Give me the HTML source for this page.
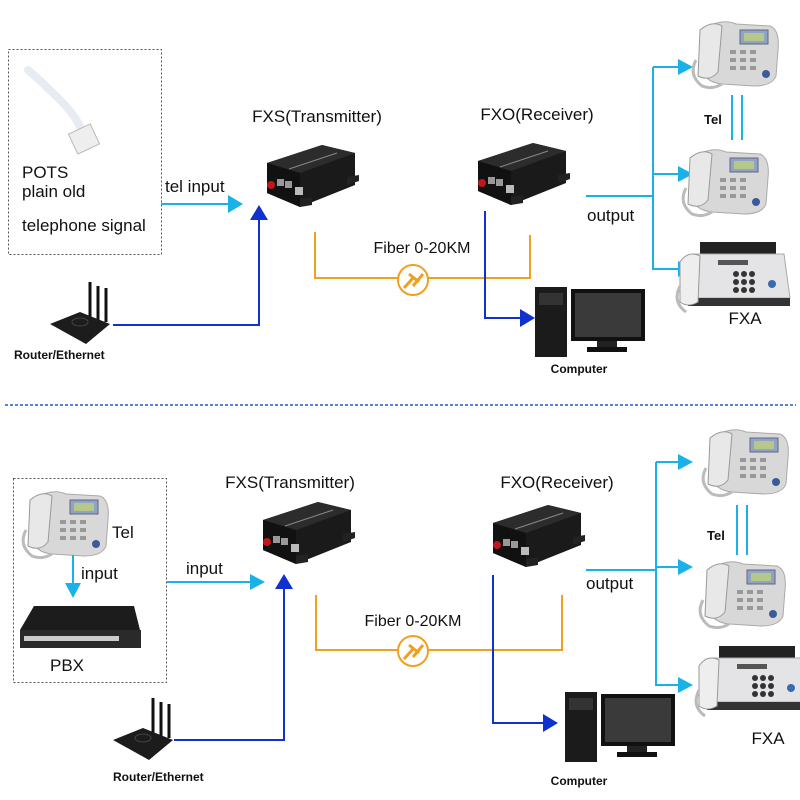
<!DOCTYPE html>
<html><head><meta charset="utf-8"><style>
html,body{margin:0;padding:0;background:#fff;}
svg{display:block;}
text{font-family:"Liberation Sans",sans-serif;fill:#111;}
</style></head><body>
<svg width="800" height="800" viewBox="0 0 800 800" xmlns="http://www.w3.org/2000/svg">
<defs>
<g id="conv">
  <polygon points="0,18 55,0 88,8 88,40 33,62 0,48" fill="#1a1a1a"/>
  <polygon points="0,18 55,0 88,8 33,28" fill="#2c2c2c"/>
  <polygon points="0,18 33,28 33,62 0,48" fill="#111"/>
  <polygon points="33,54 33,62 45,60 45,52" fill="#222"/>
  <polygon points="80,32 92,30 92,36 80,40" fill="#222"/>
  <circle cx="4" cy="40" r="4" fill="#c0161c"/>
  <rect x="10" y="34" width="7" height="7" fill="#999"/>
  <rect x="18" y="36" width="7" height="7" fill="#999"/>
  <rect x="28" y="42" width="8" height="8" fill="#bbb"/>
  <line x1="22" y1="24" x2="70" y2="8" stroke="#888" stroke-width="1"/>
</g>
<g id="phone">
  <path d="M14,8 Q30,-2 44,4 L78,6 Q88,10 86,30 L84,56 Q80,66 62,66 L30,64 Q12,62 10,48 Z" fill="#d8d8d8" stroke="#aaa"/>
  <path d="M8,10 Q20,0 30,6 L26,52 Q18,62 6,56 Z" fill="#e8e8e8" stroke="#999"/>
  <rect x="48" y="10" width="28" height="14" fill="#8ea3c8" stroke="#667"/>
  <rect x="52" y="13" width="20" height="8" fill="#b7c78a"/>
  <g fill="#999"><rect x="38" y="30" width="6" height="4"/><rect x="48" y="30" width="6" height="4"/><rect x="58" y="30" width="6" height="4"/><rect x="38" y="38" width="6" height="4"/><rect x="48" y="38" width="6" height="4"/><rect x="58" y="38" width="6" height="4"/><rect x="38" y="46" width="6" height="4"/><rect x="48" y="46" width="6" height="4"/><rect x="58" y="46" width="6" height="4"/></g>
  <circle cx="74" cy="54" r="4" fill="#3a5a9a"/>
  <path d="M4,40 Q-4,55 10,66 Q20,70 30,64" fill="none" stroke="#bbb" stroke-width="3"/>
</g>
<g id="fax">
  <rect x="22" y="0" width="76" height="12" fill="#222"/>
  <path d="M14,12 L106,12 L112,56 L10,56 Z" fill="#e4e4e6" stroke="#aaa"/>
  <rect x="10" y="56" width="102" height="8" fill="#333"/>
  <path d="M2,20 Q10,8 22,14 L20,60 Q10,66 2,60 Z" fill="#eee" stroke="#999"/>
  <rect x="40" y="18" width="30" height="5" fill="#555"/>
  <g fill="#333"><circle cx="58" cy="32" r="3"/><circle cx="66" cy="32" r="3"/><circle cx="74" cy="32" r="3"/><circle cx="58" cy="40" r="3"/><circle cx="66" cy="40" r="3"/><circle cx="74" cy="40" r="3"/><circle cx="58" cy="48" r="3"/><circle cx="66" cy="48" r="3"/><circle cx="74" cy="48" r="3"/></g>
  <circle cx="94" cy="42" r="4" fill="#3a6ab0"/>
  <path d="M2,44 Q-6,60 8,70" fill="none" stroke="#bbb" stroke-width="3"/>
</g>
<g id="pc">
  <rect x="0" y="0" width="32" height="70" fill="#1b1b1b"/>
  <rect x="4" y="6" width="24" height="12" fill="#333"/>
  <rect x="36" y="2" width="74" height="52" fill="#111"/>
  <rect x="40" y="6" width="66" height="44" fill="#3a3a3a"/>
  <rect x="62" y="54" width="20" height="6" fill="#222"/>
  <rect x="52" y="60" width="40" height="5" fill="#111"/>
</g>
<g id="router">
  <line x1="40" y1="0" x2="40" y2="36" stroke="#111" stroke-width="3"/>
  <line x1="48" y1="4" x2="48" y2="38" stroke="#111" stroke-width="3"/>
  <line x1="56" y1="6" x2="56" y2="40" stroke="#111" stroke-width="3"/>
  <path d="M0,42 L30,30 L60,42 L36,62 Z" fill="#1c1c1c"/>
  <ellipse cx="30" cy="40" rx="8" ry="4" fill="none" stroke="#444"/>
</g>
<g id="fib">
  <circle r="15" fill="#fff" stroke="#f0a020" stroke-width="2"/>
  <path d="M-9,8 L0,-2 M-4,-6 L6,2 M0,6 L10,-6" stroke="#f0a020" stroke-width="3" fill="none"/>
</g>
</defs>

<!-- TOP -->
<rect x="8.5" y="49.5" width="153" height="205" fill="none" stroke="#555" stroke-dasharray="2,2"/>
<path d="M28,70 Q40,80 60,100 Q78,118 82,132" stroke="#e6ecf2" stroke-width="8" fill="none" stroke-linecap="round"/>
<rect x="72" y="128" width="24" height="22" fill="#eee" stroke="#bbb" transform="rotate(-25 84 139)"/>
<text x="22" y="178" font-size="17">POTS</text>
<text x="22" y="197" font-size="17">plain old</text>
<text x="22" y="231" font-size="17">telephone signal</text>
<text x="165" y="192" font-size="17">tel input</text>
<line x1="161" y1="204" x2="230" y2="204" stroke="#1ab0e8" stroke-width="2"/>
<polygon points="228,195 243,204 228,213" fill="#1ab0e8"/>
<text x="317" y="122" font-size="17" text-anchor="middle">FXS(Transmitter)</text>
<use href="#conv" x="267" y="145"/>
<polyline points="113,325 259,325 259,218" fill="none" stroke="#1030d0" stroke-width="2"/>
<polygon points="250,220 259,205 268,220" fill="#1030d0"/>
<use href="#router" x="50" y="282"/>
<text x="14" y="359" font-size="12" font-weight="bold">Router/Ethernet</text>
<polyline points="315,232 315,278 398,278" fill="none" stroke="#f0a020" stroke-width="2"/>
<polyline points="428,278 530,278 530,235" fill="none" stroke="#f0a020" stroke-width="2"/>
<use href="#fib" x="413" y="280"/>
<text x="422" y="253" font-size="16" text-anchor="middle">Fiber 0-20KM</text>
<text x="537" y="120" font-size="17" text-anchor="middle">FXO(Receiver)</text>
<use href="#conv" x="478" y="143"/>
<polyline points="485,211 485,318 522,318" fill="none" stroke="#1030d0" stroke-width="2"/>
<polygon points="520,309 535,318 520,327" fill="#1030d0"/>
<use href="#pc" x="535" y="287"/>
<text x="579" y="373" font-size="12" font-weight="bold" text-anchor="middle">Computer</text>
<polyline points="586,196 653,196" fill="none" stroke="#1ab0e8" stroke-width="2"/>
<line x1="653" y1="67" x2="653" y2="270" stroke="#1ab0e8" stroke-width="2"/>
<g stroke="#1ab0e8" stroke-width="2"><line x1="653" y1="67" x2="680" y2="67"/><line x1="653" y1="174" x2="680" y2="174"/><line x1="653" y1="269" x2="680" y2="269"/></g>
<g fill="#1ab0e8"><polygon points="678,59 693,67 678,75"/><polygon points="678,166 693,174 678,182"/><polygon points="678,261 693,269 678,277"/></g>
<text x="587" y="221" font-size="17">output</text>
<use href="#phone" x="692" y="20"/>
<text x="704" y="124" font-size="13" font-weight="bold">Tel</text>
<g stroke="#1ab0e8" stroke-width="2"><line x1="732" y1="95" x2="732" y2="140"/><line x1="742" y1="95" x2="742" y2="140"/></g>
<use href="#phone" x="682" y="148"/>
<use href="#fax" x="678" y="242"/>
<text x="745" y="324" font-size="17" text-anchor="middle">FXA</text>

<line x1="5" y1="405" x2="796" y2="405" stroke="#1a5ad0" stroke-width="1.5" stroke-dasharray="3,2"/>

<!-- BOTTOM -->
<rect x="13.5" y="478.5" width="153" height="204" fill="none" stroke="#555" stroke-dasharray="2,2"/>
<use href="#phone" x="22" y="490"/>
<text x="112" y="538" font-size="17">Tel</text>
<line x1="73" y1="555" x2="73" y2="585" stroke="#1ab0e8" stroke-width="2"/>
<polygon points="65,583 73,598 81,583" fill="#1ab0e8"/>
<text x="81" y="579" font-size="17">input</text>
<polygon points="34,606 134,606 140,630 20,630" fill="#1c1c1c"/>
<rect x="20" y="630" width="121" height="18" fill="#2a2a2a"/>
<rect x="24" y="636" width="95" height="5" fill="#ccc"/>
<text x="50" y="671" font-size="17">PBX</text>
<text x="186" y="574" font-size="17">input</text>
<line x1="167" y1="582" x2="252" y2="582" stroke="#1ab0e8" stroke-width="2"/>
<polygon points="250,574 265,582 250,590" fill="#1ab0e8"/>
<text x="290" y="488" font-size="17" text-anchor="middle">FXS(Transmitter)</text>
<use href="#conv" x="263" y="502"/>
<polyline points="174,740 284,740 284,587" fill="none" stroke="#1030d0" stroke-width="2"/>
<polygon points="275,589 284,574 293,589" fill="#1030d0"/>
<use href="#router" x="113" y="698"/>
<text x="113" y="781" font-size="12" font-weight="bold">Router/Ethernet</text>
<polyline points="316,595 316,650 398,650" fill="none" stroke="#f0a020" stroke-width="2"/>
<polyline points="428,650 562,650 562,595" fill="none" stroke="#f0a020" stroke-width="2"/>
<use href="#fib" x="413" y="651"/>
<text x="413" y="626" font-size="16" text-anchor="middle">Fiber 0-20KM</text>
<text x="557" y="488" font-size="17" text-anchor="middle">FXO(Receiver)</text>
<use href="#conv" x="493" y="505"/>
<polyline points="493,575 493,723 545,723" fill="none" stroke="#1030d0" stroke-width="2"/>
<polygon points="543,714 558,723 543,732" fill="#1030d0"/>
<use href="#pc" x="565" y="692"/>
<text x="579" y="785" font-size="12" font-weight="bold" text-anchor="middle">Computer</text>
<line x1="586" y1="570" x2="656" y2="570" stroke="#1ab0e8" stroke-width="2"/>
<line x1="656" y1="462" x2="656" y2="686" stroke="#1ab0e8" stroke-width="2"/>
<g stroke="#1ab0e8" stroke-width="2"><line x1="656" y1="462" x2="680" y2="462"/><line x1="656" y1="567" x2="680" y2="567"/><line x1="656" y1="685" x2="680" y2="685"/></g>
<g fill="#1ab0e8"><polygon points="678,454 693,462 678,470"/><polygon points="678,559 693,567 678,575"/><polygon points="678,677 693,685 678,693"/></g>
<text x="586" y="589" font-size="17">output</text>
<use href="#phone" x="702" y="428"/>
<text x="707" y="540" font-size="13" font-weight="bold">Tel</text>
<g stroke="#1ab0e8" stroke-width="2"><line x1="737" y1="505" x2="737" y2="555"/><line x1="747" y1="505" x2="747" y2="555"/></g>
<use href="#phone" x="699" y="560"/>
<use href="#fax" x="697" y="646"/>
<text x="768" y="744" font-size="17" text-anchor="middle">FXA</text>
</svg>
</body></html>
